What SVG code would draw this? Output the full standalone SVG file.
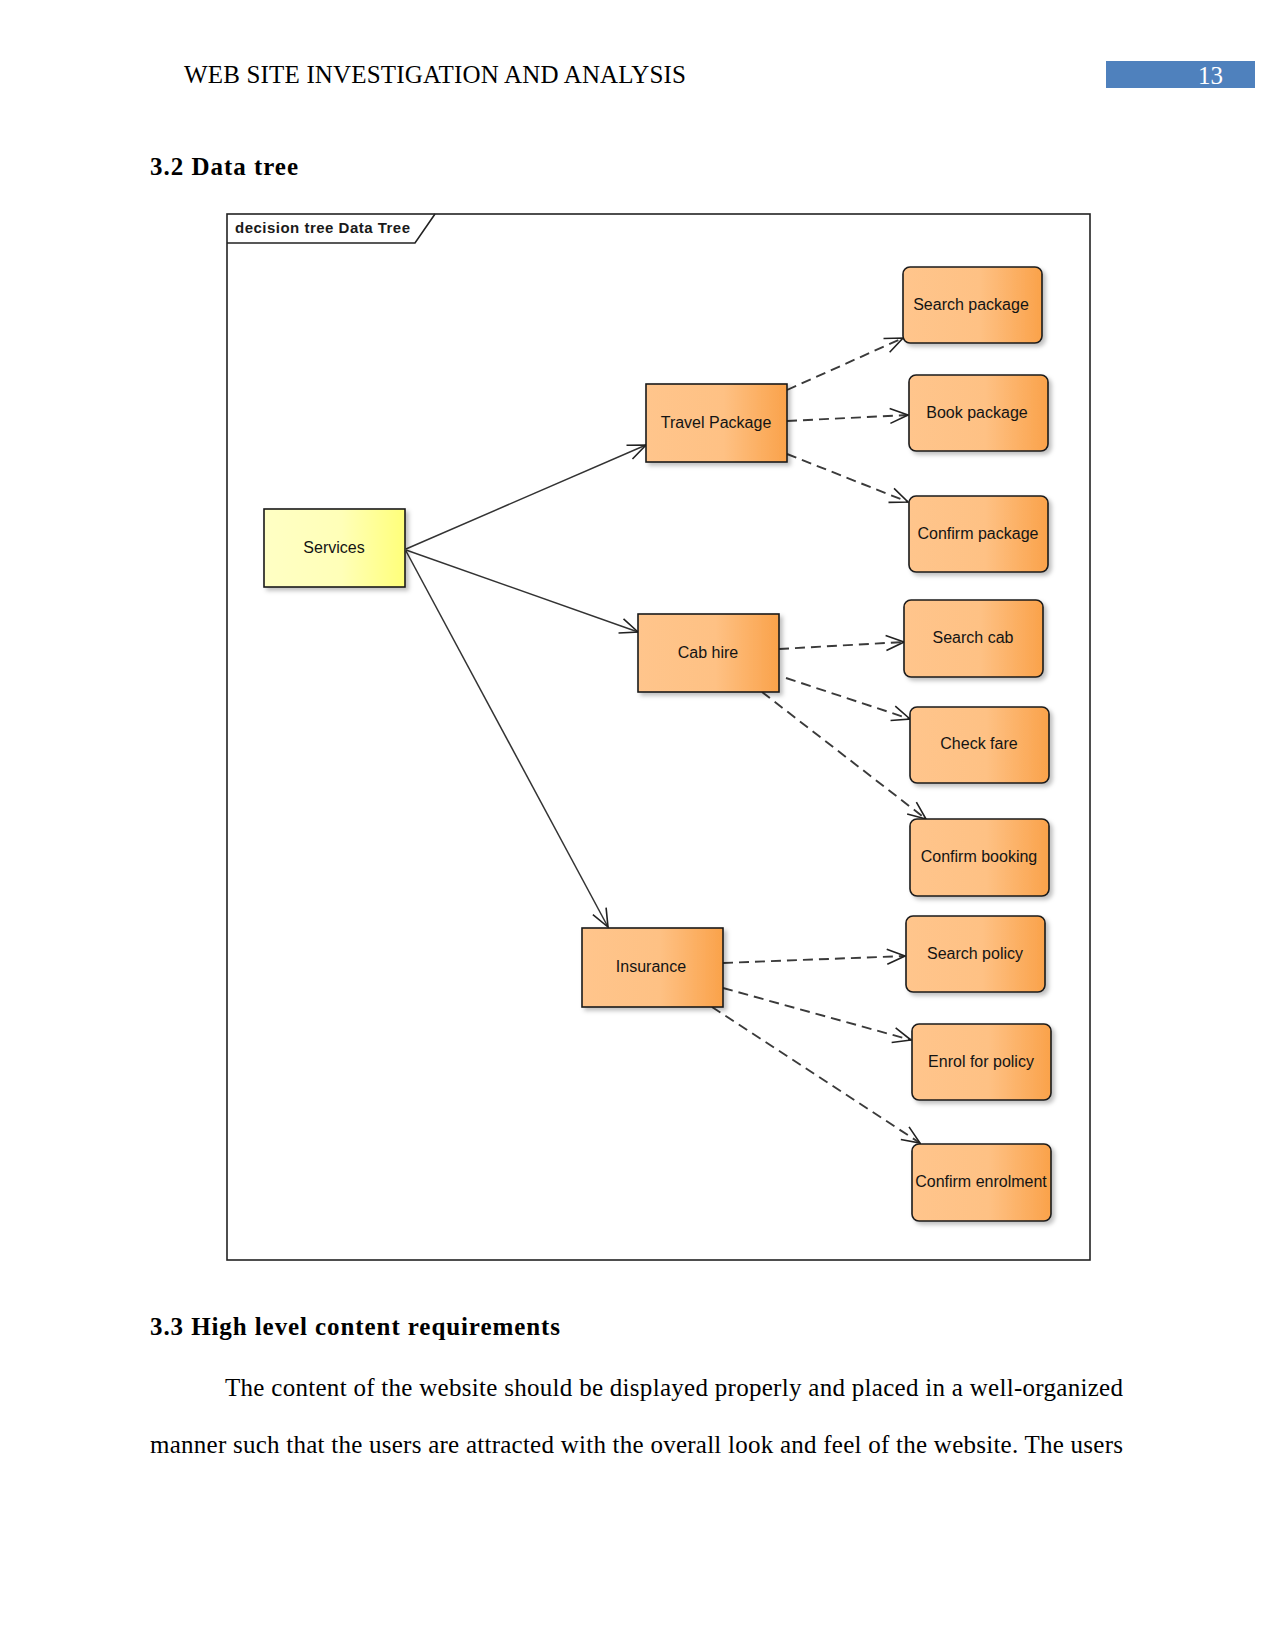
<svg xmlns="http://www.w3.org/2000/svg" width="1275" height="1651" viewBox="0 0 1275 1651">
<style>
.doc{font-family:"Liberation Serif","Times New Roman",serif;font-size:25px;fill:#000}
.hb{font-weight:bold}
.lbl{font-family:"Liberation Sans",Arial,sans-serif;font-size:16px;fill:#141414;text-anchor:middle}
.frame{fill:none;stroke:#222;stroke-width:1.6}
.node{stroke:#1a1a1a;stroke-width:1.6;filter:url(#sh)}
.or{fill:url(#og)}
.ye{fill:url(#yg)}
.solid{fill:none;stroke:#333;stroke-width:1.5;marker-end:url(#arr)}
.dash{fill:none;stroke:#3a3a3a;stroke-width:1.9;stroke-dasharray:10 6;marker-end:url(#arr)}
</style>
<defs>
<linearGradient id="og" x1="0" y1="0" x2="1" y2="0">
<stop offset="0" stop-color="#FFC58C"/>
<stop offset="0.55" stop-color="#FEC184"/>
<stop offset="1" stop-color="#FAA24A"/>
</linearGradient>
<linearGradient id="yg" x1="0" y1="0" x2="1" y2="0">
<stop offset="0" stop-color="#FFFFC4"/>
<stop offset="0.55" stop-color="#FFFFB8"/>
<stop offset="1" stop-color="#FFFF7A"/>
</linearGradient>
<filter id="sh" x="-10%" y="-10%" width="125%" height="130%">
<feDropShadow dx="3" dy="3" stdDeviation="2" flood-color="#000" flood-opacity="0.25"/>
</filter>
<marker id="arr" markerUnits="userSpaceOnUse" viewBox="0 0 20 18" markerWidth="20" markerHeight="18" refX="19" refY="9" orient="auto">
<path d="M1,1.5 L19,9 L1,16.5" fill="none" stroke="#222" stroke-width="1.6" stroke-dasharray="none"/>
</marker>
</defs>
<rect width="1275" height="1651" fill="#fff"/>

<g id="page-header">
<text class="doc" x="184" y="83" textLength="502">WEB SITE INVESTIGATION AND ANALYSIS</text>
<rect x="1106" y="61" width="149" height="27" fill="#4F81BD"/>
<text class="doc" x="1198" y="84" style="fill:#fff">13</text>
</g>
<text class="doc hb" x="150" y="175" textLength="148">3.2 Data tree</text>

<g id="frame">
<rect class="frame" x="227" y="214" width="863" height="1046"/>
<path class="frame" d="M227,243 L415,243 L435,214"/>
<text x="235" y="233" style="font-family:'Liberation Sans',Arial,sans-serif;font-size:15px;font-weight:bold;fill:#1a1a1a" textLength="175">decision tree Data Tree</text>
</g>

<g id="connectors">
<line class="solid" x1="406" y1="549" x2="646" y2="445"/>
<line class="solid" x1="406" y1="550" x2="638" y2="632"/>
<line class="solid" x1="406" y1="551" x2="608" y2="927"/>
<line class="dash" x1="787" y1="390" x2="903" y2="338"/>
<line class="dash" x1="787" y1="421" x2="908" y2="415"/>
<line class="dash" x1="787" y1="454" x2="908" y2="502"/>
<line class="dash" x1="779" y1="649" x2="904" y2="642"/>
<line class="dash" x1="786" y1="678" x2="910" y2="719"/>
<line class="dash" x1="762" y1="692" x2="926" y2="819"/>
<line class="dash" x1="723" y1="963" x2="905" y2="956"/>
<line class="dash" x1="723" y1="988" x2="911" y2="1040"/>
<line class="dash" x1="712" y1="1007" x2="920" y2="1143"/>
</g>

<g id="services">
<rect class="node ye" x="264" y="509" width="141" height="78"/>
<text class="lbl" x="334" y="553">Services</text>
</g>
<g id="travel-package">
<rect class="node or" x="646" y="384" width="141" height="78"/>
<text class="lbl" x="716" y="428">Travel Package</text>
</g>
<g id="cab-hire">
<rect class="node or" x="638" y="614" width="141" height="78"/>
<text class="lbl" x="708" y="658">Cab hire</text>
</g>
<g id="insurance">
<rect class="node or" x="582" y="928" width="141" height="79"/>
<text class="lbl" x="651" y="972">Insurance</text>
</g>

<g id="search-package">
<rect class="node or" x="903" y="267" width="139" height="76" rx="7"/>
<text class="lbl" x="971" y="310">Search package</text>
</g>
<g id="book-package">
<rect class="node or" x="909" y="375" width="139" height="76" rx="7"/>
<text class="lbl" x="977" y="418">Book package</text>
</g>
<g id="confirm-package">
<rect class="node or" x="909" y="496" width="139" height="76" rx="7"/>
<text class="lbl" x="978" y="539">Confirm package</text>
</g>
<g id="search-cab">
<rect class="node or" x="904" y="600" width="139" height="77" rx="7"/>
<text class="lbl" x="973" y="643">Search cab</text>
</g>
<g id="check-fare">
<rect class="node or" x="910" y="707" width="139" height="76" rx="7"/>
<text class="lbl" x="979" y="749">Check fare</text>
</g>
<g id="confirm-booking">
<rect class="node or" x="910" y="819" width="139" height="77" rx="7"/>
<text class="lbl" x="979" y="862">Confirm booking</text>
</g>
<g id="search-policy">
<rect class="node or" x="906" y="916" width="139" height="76" rx="7"/>
<text class="lbl" x="975" y="959">Search policy</text>
</g>
<g id="enrol-for-policy">
<rect class="node or" x="912" y="1024" width="139" height="76" rx="7"/>
<text class="lbl" x="981" y="1067">Enrol for policy</text>
</g>
<g id="confirm-enrolment">
<rect class="node or" x="912" y="1144" width="139" height="77" rx="7"/>
<text class="lbl" x="981" y="1187">Confirm enrolment</text>
</g>

<text class="doc hb" x="150" y="1335" textLength="410">3.3 High level content requirements</text>
<text class="doc" x="225" y="1396" textLength="898">The content of the website should be displayed properly and placed in a well-organized</text>
<text class="doc" x="150" y="1453" textLength="973">manner such that the users are attracted with the overall look and feel of the website. The users</text>
</svg>
